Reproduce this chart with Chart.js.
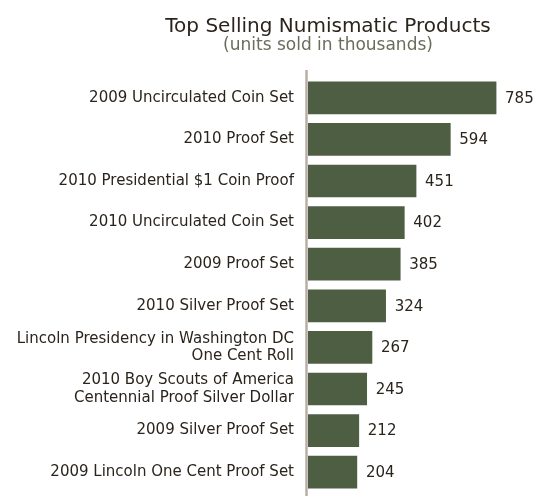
<!DOCTYPE html>
<html>
<head>
<meta charset="utf-8">
<script src="https://cdn.jsdelivr.net/npm/chart.js@4.4.1/dist/chart.umd.min.js"></script>
<style>
    body { margin: 0; background: #ffffff; }
    #wrap { width: 545px; height: 496px; position: relative; }
</style>
</head>
<body>
<div id="wrap"><canvas id="salesChart"></canvas></div>
<script>
const products = [
    '2009 Uncirculated Coin Set',
    '2010 Proof Set',
    '2010 Presidential $1 Coin Proof',
    '2010 Uncirculated Coin Set',
    '2009 Proof Set',
    '2010 Silver Proof Set',
    ['Lincoln Presidency in Washington DC', 'One Cent Roll'],
    ['2010 Boy Scouts of America', 'Centennial Proof Silver Dollar'],
    '2009 Silver Proof Set',
    '2009 Lincoln One Cent Proof Set'
];
const unitsSold = [785, 594, 451, 402, 385, 324, 267, 245, 212, 204];
const chartTitle = 'Top Selling Numismatic Products';
const chartSubtitle = '(units sold in thousands)';

const barColor = '#4d5e43';
const textColor = '#2b241c';
const fontFamily = "'DejaVu Sans', Verdana, sans-serif";

// title block is not centered on the canvas in the original, so draw it by hand
const titlePlugin = {
    id: 'titleBlock',
    afterDraw(chart) {
        const ctx = chart.ctx;
        ctx.save();
        ctx.textAlign = 'center';
        ctx.textBaseline = 'alphabetic';
        ctx.fillStyle = textColor;
        ctx.font = '20px ' + fontFamily;
        ctx.fillText(chartTitle, 328, 32);
        ctx.fillStyle = '#6b6d5c';
        ctx.font = '17px ' + fontFamily;
        ctx.fillText(chartSubtitle, 328, 50);
        ctx.restore();
    }
};

const axisLinePlugin = {
    id: 'axisLine',
    beforeDatasetsDraw(chart) {
        const ctx = chart.ctx;
        const x = chart.chartArea.left - 1.5;
        ctx.save();
        ctx.strokeStyle = '#b7afa5';
        ctx.lineWidth = 2.5;
        ctx.beginPath();
        ctx.moveTo(x, chart.chartArea.top - 7);
        ctx.lineTo(x, chart.height);
        ctx.stroke();
        ctx.restore();
    }
};

const valueLabelPlugin = {
    id: 'valueLabels',
    afterDatasetsDraw(chart) {
        const ctx = chart.ctx;
        const meta = chart.getDatasetMeta(0);
        ctx.save();
        ctx.fillStyle = textColor;
        ctx.font = '15px ' + fontFamily;
        ctx.textAlign = 'left';
        ctx.textBaseline = 'middle';
        meta.data.forEach((bar, i) => {
            ctx.fillText(String(unitsSold[i]), bar.x + 9, bar.y + 1);
        });
        ctx.restore();
    }
};

const ctx = document.getElementById('salesChart').getContext('2d');
new Chart(ctx, {
    type: 'bar',
    data: {
        labels: products,
        datasets: [{
            data: unitsSold,
            backgroundColor: barColor,
            borderWidth: 0,
            barThickness: 32
        }]
    },
    options: {
        indexAxis: 'y',
        responsive: true,
        maintainAspectRatio: false,
        animation: false,
        devicePixelRatio: 1,
        layout: {
            padding: { top: 77, bottom: 3, left: 0, right: 7 }
        },
        plugins: {
            legend: { display: false },
            title: { display: false },
            tooltip: { enabled: false }
        },
        scales: {
            x: {
                display: false,
                min: 0,
                max: 960
            },
            y: {
                afterFit(scale) {
                    scale.width = 308;
                    scale.paddingTop = 0;
                    scale.paddingBottom = 0;
                },
                grid: { display: false, drawTicks: false },
                border: { display: false },
                ticks: {
                    color: textColor,
                    padding: 14,
                    font: { family: fontFamily, size: 15, lineHeight: 1.15 }
                }
            }
        }
    },
    plugins: [titlePlugin, axisLinePlugin, valueLabelPlugin]
});
</script>
</body>
</html>
